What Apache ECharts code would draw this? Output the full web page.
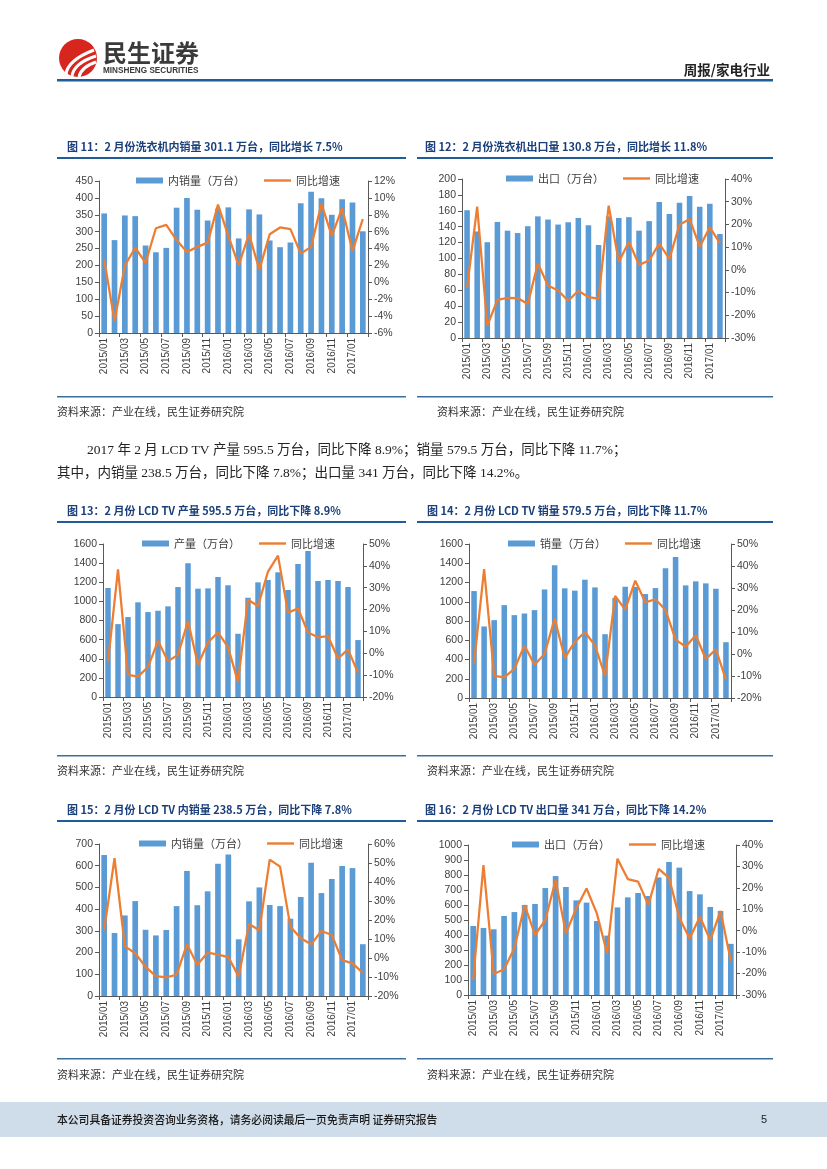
<!DOCTYPE html>
<html><head><meta charset="utf-8">
<script src="https://cdn.jsdelivr.net/npm/echarts@6/dist/echarts.min.js"></script>
<style>html,body{margin:0;padding:0;background:#fff}#page{width:827px;height:1169px}</style>
</head><body><div id="page"></div>
<script>
// ---- categories ----
const months = ['2015/01','2015/02','2015/03','2015/04','2015/05','2015/06','2015/07','2015/08','2015/09','2015/10','2015/11','2015/12',
  '2016/01','2016/02','2016/03','2016/04','2016/05','2016/06','2016/07','2016/08','2016/09','2016/10','2016/11','2016/12','2017/01','2017/02'];

// ---- Fig 11: washing machine domestic sales ----
const wmDomesticSales = [354,275,348,346,259,239,252,371,400,365,333,368,372,280,366,351,274,254,268,384,418,399,350,396,386,301.1];
const wmDomesticYoY   = [2.7,-4.6,2.0,4.1,2.3,6.4,6.8,5.0,3.6,4.2,4.7,9.2,5.5,2.0,5.7,1.5,5.7,6.5,6.3,3.4,4.2,9.3,5.5,8.8,3.7,7.5];
// ---- Fig 12: washing machine export ----
const wmExport    = [160.7,134,120.5,146,135,132,140.6,153,149,142.7,145.6,151,141.8,117,153,151,152,135,147,171,156,170,178.7,165,169,130.8];
const wmExportYoY = [-8,27.8,-24.6,-13.2,-12.3,-12.4,-15,2.8,-6.9,-9.1,-13.6,-9.2,-12,-12.7,28.3,3.5,12.4,2.2,4.1,11.6,4.8,19.8,22.4,10.2,18.7,11.8];
// ---- Fig 13: LCD TV production ----
const tvProduction    = [1140,762,836,990,888,902,948,1150,1398,1133,1136,1255,1168,661,1038,1199,1224,1304,1119,1392,1528,1213,1224,1213,1150,595.5];
const tvProductionYoY = [-4,38.4,-9.9,-10.7,-6.3,5.7,-3.7,-0.6,14.7,-5.2,4.9,9.6,2.8,-13.1,24.5,21.6,37.4,44.7,18.6,20.5,9.5,7.3,7.8,-2.4,1.8,-8.9];
// ---- Fig 14: LCD TV sales ----
const tvSales    = [1111,743,809,965,861,878,913,1128,1378,1139,1115,1229,1149,663,1040,1156,1153,1080,1142,1347,1465,1170,1212,1191,1135,579.5];
const tvSalesYoY = [-4.4,38.6,-9.9,-10.6,-6.8,3.9,-4.9,0,16.1,-1.8,5.5,10,3.9,-10,26.4,20.2,33.3,23.5,24.9,20,6.5,3.3,8.5,-2.3,2.1,-11.7];
// ---- Fig 15: LCD TV domestic sales ----
const tvDomestic    = [649,290,371,437,305,279,304,414,576,418,482,609,652,261,436,500,419,414,356,456,614,474,539,599,589,238.5];
const tvDomesticYoY = [14.7,52.5,6.1,2.5,-4.7,-9.5,-10.2,-8.8,7.2,-3.5,2.8,1.8,0.5,-9.8,17.9,14.6,51.8,48.1,16.5,10.4,7.2,14.2,12.1,-1.1,-2.8,-7.8];
// ---- Fig 16: LCD TV export ----
const tvExport    = [460,447,438,527,553,600,607,713,793,720,631,616,493,396,584,651,680,660,784,887,849,693,671,587,560,341];
const tvExportYoY = [-23,30.6,-20.2,-18,-8.2,12,-2,5,23.6,-1.2,10.4,19.7,8.1,-10.6,33.6,24.1,22.9,12,28.9,24.7,6.1,-3.6,6.5,-4.4,9.2,-14.2];

const lineName = '同比增速';
const SANS = '"Liberation Sans","Noto Sans CJK SC",sans-serif';
const CJK = '"Noto Sans CJK SC",sans-serif';
const SERIF = '"Liberation Serif","Noto Sans CJK SC",serif';
const AXIS_COLOR = '#595959';
const LABEL_COLOR = '#404040';

const panels = [
  {bar:'内销量（万台）', bars:wmDomesticSales, line:wmDomesticYoY, lmax:450, lint:50, rmin:-6, rmax:12, rint:2,
   grid:{left:99, top:181, width:269, height:152}, legend:{left:136, top:175}},
  {bar:'出口（万台）', bars:wmExport, line:wmExportYoY, lmax:200, lint:20, rmin:-30, rmax:40, rint:10,
   grid:{left:462, top:179, width:263, height:159}, legend:{left:506, top:173}},
  {bar:'产量（万台）', bars:tvProduction, line:tvProductionYoY, lmax:1600, lint:200, rmin:-20, rmax:50, rint:10,
   grid:{left:103, top:544, width:260, height:153}, legend:{left:142, top:538}},
  {bar:'销量（万台）', bars:tvSales, line:tvSalesYoY, lmax:1600, lint:200, rmin:-20, rmax:50, rint:10,
   grid:{left:469, top:544, width:262, height:154}, legend:{left:508, top:538}},
  {bar:'内销量（万台）', bars:tvDomestic, line:tvDomesticYoY, lmax:700, lint:100, rmin:-20, rmax:60, rint:10,
   grid:{left:99, top:844, width:269, height:152}, legend:{left:139, top:838}},
  {bar:'出口（万台）', bars:tvExport, line:tvExportYoY, lmax:1000, lint:100, rmin:-30, rmax:40, rint:10,
   grid:{left:468, top:845, width:268, height:150}, legend:{left:512, top:839}}
];

const grid = [], xAxis = [], yAxis = [], series = [], legend = [];
panels.forEach((p, i) => {
  grid.push(Object.assign({containLabel:false}, p.grid));
  xAxis.push({type:'category', gridIndex:i, data:months, boundaryGap:true,
    axisLine:{lineStyle:{color:AXIS_COLOR, width:1}},
    axisTick:{show:true, interval:1, length:4, lineStyle:{color:AXIS_COLOR}},
    axisLabel:{interval:1, rotate:90, fontSize:10, color:LABEL_COLOR, fontFamily:SANS, margin:5},
    splitLine:{show:false}});
  yAxis.push({type:'value', gridIndex:i, position:'left', min:0, max:p.lmax, interval:p.lint,
    axisLine:{show:true, lineStyle:{color:AXIS_COLOR}},
    axisTick:{show:true, length:4, lineStyle:{color:AXIS_COLOR}},
    axisLabel:{fontSize:10.5, color:LABEL_COLOR, fontFamily:SANS, margin:6, formatter:v => String(v)},
    splitLine:{show:false}});
  yAxis.push({type:'value', gridIndex:i, position:'right', min:p.rmin, max:p.rmax, interval:p.rint,
    axisLine:{show:true, lineStyle:{color:AXIS_COLOR}},
    axisTick:{show:true, length:4, lineStyle:{color:AXIS_COLOR}},
    axisLabel:{fontSize:10.5, color:LABEL_COLOR, fontFamily:SANS, margin:6, formatter:v => v + '%'},
    splitLine:{show:false}});
  series.push({type:'bar', name:p.bar, xAxisIndex:i, yAxisIndex:2*i, data:p.bars, barWidth:'55%',
    itemStyle:{color:'#5b9bd5'}, z:2});
  series.push({type:'line', name:lineName, xAxisIndex:i, yAxisIndex:2*i+1, data:p.line, symbol:'none',
    lineStyle:{color:'#ed7d31', width:2.25}, itemStyle:{color:'#ed7d31'}, z:3});
  legend.push({left:p.legend.left, top:p.legend.top, padding:0, itemGap:19, itemWidth:27, itemHeight:6,
    symbolKeepAspect:true,
    data:[{name:p.bar, icon:'rect'}, {name:lineName, icon:'path://M0,0H27V2.4H0Z'}],
    textStyle:{fontSize:11, color:LABEL_COLOR, fontFamily:CJK}, selectedMode:false});
});

// ---- page furniture ----
const BLUE = '#1f5c99';
const TITLE = '#1a3f7a';
function txt(x, y, text, font, fill, align) {
  return {type:'text', silent:true, style:{x:x, y:y, text:text, font:font, fill:fill,
    align:align||'left', textAlign:align||'left', verticalAlign:'middle', textVerticalAlign:'middle'}};
}
function rule(x1, x2, y, h, c) {
  return {type:'rect', silent:true, shape:{x:x1, y:y, width:x2-x1, height:h||2}, style:{fill:c||BLUE}};
}
const titles = [
  [67, 147, '图 11：2 月份洗衣机内销量 301.1 万台，同比增长 7.5%'],
  [425, 147, '图 12：2 月份洗衣机出口量 130.8 万台，同比增长 11.8%'],
  [67, 511, '图 13：2 月份 LCD TV 产量 595.5 万台，同比下降 8.9%'],
  [427, 511, '图 14：2 月份 LCD TV 销量 579.5 万台，同比下降 11.7%'],
  [67, 810, '图 15：2 月份 LCD TV 内销量 238.5 万台，同比下降 7.8%'],
  [425, 810, '图 16：2 月份 LCD TV 出口量 341 万台，同比下降 14.2%']
];
const source = '资料来源：产业在线，民生证券研究院';
const graphic = [
  // logo
  {type:'circle', silent:true, shape:{cx:78, cy:58, r:19}, style:{fill:'#d7261e'}},
  {type:'bezierCurve', silent:true, shape:{x1:66, y1:74, cpx1:68, cpy1:60, x2:94, y2:50}, style:{stroke:'#fff', lineWidth:3, fill:null}},
  {type:'bezierCurve', silent:true, shape:{x1:72, y1:76, cpx1:74, cpy1:63, x2:96, y2:56}, style:{stroke:'#fff', lineWidth:3, fill:null}},
  {type:'bezierCurve', silent:true, shape:{x1:79, y1:77, cpx1:81, cpy1:67, x2:96, y2:62}, style:{stroke:'#fff', lineWidth:3, fill:null}},
  txt(103, 53, '民生证券', 'bold 24px ' + CJK, '#3a3a3a'),
  txt(103, 71, 'MINSHENG SECURITIES', 'bold 8.2px "Liberation Sans",sans-serif', '#3a3a3a'),
  txt(770, 70, '周报/家电行业', 'bold 13.5px ' + CJK, '#222', 'right'),
  rule(57, 773, 79, 2.5),
  // paragraph
  txt(87, 450, '2017 年 2 月 LCD TV 产量 595.5 万台，同比下降 8.9%；销量 579.5 万台，同比下降 11.7%；', '13.5px ' + SERIF, '#222'),
  txt(57, 473, '其中，内销量 238.5 万台，同比下降 7.8%；出口量 341 万台，同比下降 14.2%。', '13.5px ' + SERIF, '#222'),
  // footer
  {type:'rect', silent:true, shape:{x:0, y:1102, width:827, height:35}, style:{fill:'#cfdce9'}},
  txt(57, 1120, '本公司具备证券投资咨询业务资格，请务必阅读最后一页免责声明 证券研究报告', '500 10.8px ' + CJK, '#1a1a1a'),
  txt(767, 1120, '5', '11px ' + SANS, '#222', 'right')
];
titles.forEach(t => graphic.push(txt(t[0], t[1], t[2], 'bold 11px ' + CJK, TITLE)));
// title underlines & bottom rules
[[157, 396], [521, 755], [820, 1058]].forEach(r => {
  graphic.push(rule(57, 406, r[0], 2));
  graphic.push(rule(417, 773, r[0], 2));
  graphic.push(rule(57, 406, r[1], 1.5, '#3d6e9e'));
  graphic.push(rule(417, 773, r[1], 1.5, '#3d6e9e'));
});
[[57, 412], [437, 412], [57, 771], [427, 771], [57, 1075], [427, 1075]].forEach(s =>
  graphic.push(txt(s[0], s[1], source, '11px ' + CJK, '#333')));

const chart = echarts.init(document.getElementById('page'), null, {renderer:'canvas', width:827, height:1169});
chart.setOption({animation:false, backgroundColor:'#fff', grid, xAxis, yAxis, series, legend, graphic});
</script></body></html>
